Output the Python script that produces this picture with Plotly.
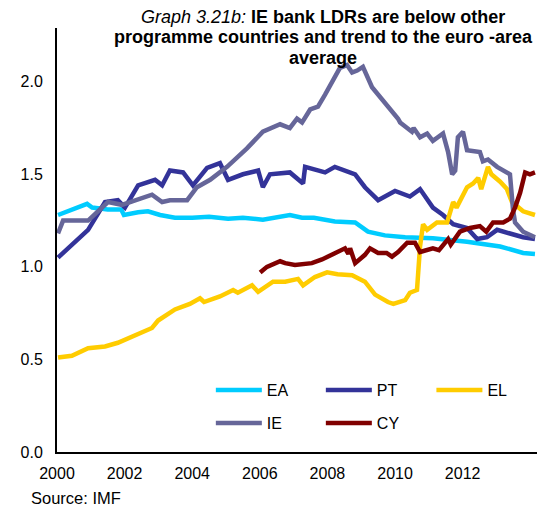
import plotly.graph_objects as go

# decimal years / loan-to-deposit ratios
ea_x = [2000.03, 2000.5, 2000.89, 2001.04, 2001.5, 2001.9, 2001.98, 2002.4, 2002.69, 2003.05,
        2003.49, 2004.0, 2004.5, 2005.06, 2005.5, 2006.09, 2006.5, 2006.89, 2007.25, 2007.6,
        2008.22, 2008.82, 2009.2, 2009.7, 2010.3, 2011.12, 2012.13, 2013.11, 2013.79, 2014.14]
ea_y = [1.28, 1.31, 1.34, 1.32, 1.31, 1.31, 1.28, 1.295, 1.30, 1.28,
        1.265, 1.265, 1.27, 1.26, 1.265, 1.255, 1.27, 1.28, 1.265, 1.265,
        1.245, 1.24, 1.19, 1.17, 1.16, 1.155, 1.135, 1.11, 1.075, 1.07]

pt_x = [2000.03, 2000.53, 2000.92, 2001.42, 2001.80, 2002.01, 2002.40, 2002.90, 2003.11, 2003.34,
        2003.73, 2004.02, 2004.44, 2004.82, 2005.06, 2005.50, 2005.95, 2006.09, 2006.30, 2006.89,
        2007.28, 2007.34, 2007.93, 2008.22, 2008.82, 2009.11, 2009.50, 2010.00, 2010.15, 2010.44,
        2010.74, 2011.12, 2011.42, 2011.72, 2012.13, 2012.43, 2012.72, 2013.02, 2013.40, 2013.79,
        2014.14]
pt_y = [1.05, 1.13, 1.20, 1.35, 1.36, 1.32, 1.44, 1.47, 1.44, 1.52,
        1.51, 1.44, 1.535, 1.56, 1.47, 1.50, 1.52, 1.43, 1.50, 1.51,
        1.45, 1.54, 1.51, 1.54, 1.50, 1.43, 1.36, 1.41, 1.40, 1.38,
        1.42, 1.32, 1.28, 1.23, 1.21, 1.15, 1.16, 1.20, 1.18, 1.16,
        1.15]

el_x = [2000.03, 2000.44, 2000.92, 2001.42, 2001.80, 2002.31, 2002.81, 2002.99, 2003.34, 2003.49,
        2003.93, 2004.23, 2004.35, 2004.82, 2005.21, 2005.35, 2005.77, 2005.95, 2006.39, 2006.75,
        2007.13, 2007.28, 2007.63, 2007.99, 2008.3, 2008.73, 2009.11, 2009.41, 2009.79, 2009.95,
        2010.30, 2010.44, 2010.65, 2010.74, 2010.83, 2010.95, 2011.24, 2011.54, 2011.72, 2011.82,
        2012.13, 2012.31, 2012.46, 2012.55, 2012.75, 2012.85, 2013.11, 2013.31, 2013.46, 2013.79,
        2014.14]
el_y = [0.51, 0.52, 0.56, 0.57, 0.59, 0.63, 0.67, 0.71, 0.75, 0.77,
        0.80, 0.83, 0.81, 0.84, 0.875, 0.86, 0.90, 0.865, 0.92, 0.92,
        0.935, 0.90, 0.945, 0.97, 0.96, 0.955, 0.92, 0.85, 0.81, 0.80,
        0.82, 0.86, 0.875, 1.11, 1.23, 1.20, 1.24, 1.24, 1.35, 1.32,
        1.43, 1.45, 1.48, 1.42, 1.54, 1.50, 1.46, 1.42, 1.35, 1.30,
        1.28]

ie_x = [2000.03, 2000.18, 2000.53, 2000.92, 2001.21, 2001.51, 2001.92, 2002.31, 2002.81, 2003.11,
        2003.34, 2003.85, 2004.14, 2004.53, 2005.03, 2005.62, 2006.09, 2006.60, 2006.89, 2007.10,
        2007.25, 2007.49, 2007.72, 2007.93, 2008.14, 2008.37, 2008.58, 2008.73, 2008.88, 2009.05,
        2009.32, 2009.70, 2010.09, 2010.15, 2010.50, 2010.55, 2010.74, 2010.95, 2011.12, 2011.42,
        2011.57, 2011.69, 2011.78, 2011.86, 2012.01, 2012.13, 2012.51, 2012.60, 2012.75, 2013.02,
        2013.31, 2013.40, 2013.49, 2013.55, 2013.79, 2014.14]
ie_y = [1.18, 1.25, 1.25, 1.25, 1.30, 1.35, 1.335, 1.36, 1.39, 1.35,
        1.36, 1.36, 1.43, 1.47, 1.54, 1.64, 1.73, 1.77, 1.75, 1.80,
        1.78, 1.85, 1.865, 1.93, 1.995, 2.075, 2.09, 2.05, 2.06, 2.08,
        1.97, 1.89, 1.80, 1.78, 1.73, 1.75, 1.70, 1.72, 1.68, 1.72,
        1.62, 1.50, 1.52, 1.70, 1.73, 1.63, 1.62, 1.57, 1.58, 1.54,
        1.51, 1.50, 1.31, 1.24, 1.19, 1.16]

cy_x = [2006.01, 2006.21, 2006.60, 2006.75, 2007.04, 2007.54, 2007.84, 2008.31, 2008.52, 2008.62,
        2008.67, 2008.82, 2009.11, 2009.26, 2009.50, 2009.75, 2009.91, 2010.09, 2010.36, 2010.59,
        2010.74, 2011.12, 2011.30, 2011.57, 2011.65, 2011.92, 2012.22, 2012.51, 2012.70, 2012.90,
        2013.20, 2013.40, 2013.55, 2013.70, 2013.85, 2013.99, 2014.14]
cy_y = [0.97, 1.00, 1.03, 1.02, 1.01, 1.02, 1.04, 1.08, 1.10, 1.07,
        1.10, 1.02, 1.065, 1.10, 1.075, 1.075, 1.055, 1.08, 1.13, 1.13,
        1.08, 1.10, 1.09, 1.15, 1.12, 1.19, 1.21, 1.22, 1.19, 1.24,
        1.24, 1.26, 1.32, 1.40, 1.51, 1.50, 1.51]

year_ticks = [2000, 2002, 2004, 2006, 2008, 2010, 2012]
ratio_ticks = [0.0, 0.5, 1.0, 1.5, 2.0]

title_lines = ["<i>Graph 3.21b:</i> <b>IE bank LDRs are below other</b>",
               "<b>programme countries and trend to the euro -area</b>",
               "<b>average</b>"]

# EL gets its own legend box so the last column does not spill past the page
series = [
    ("EA", ea_x, ea_y, "#00CCFF", "legend"),
    ("PT", pt_x, pt_y, "#333399", "legend"),
    ("EL", el_x, el_y, "#FFCC00", "legend3"),
    ("IE", ie_x, ie_y, "#666699", "legend2"),
    ("CY", cy_x, cy_y, "#800000", "legend2"),
]

fig = go.Figure()
for name, xs, ys, col, leg in series:
    fig.add_trace(go.Scatter(x=xs, y=ys, name=name, mode="lines",
                             line=dict(color=col, width=4.5), legend=leg))

font = "Liberation Sans, Arial, sans-serif"
leg_common = dict(orientation="h", xanchor="left", yanchor="middle", x=0.3205,
                  itemwidth=46, entrywidth=49, bgcolor="rgba(0,0,0,0)",
                  font=dict(family=font, size=16, color="black"), tracegroupgap=0)

# title as three separate lines so the line spacing matches
notes = []
for txt, ty in zip(title_lines, [1.027, 0.9776, 0.9293]):
    notes.append(dict(text=txt, xref="paper", yref="paper", x=0.555, y=ty,
                      xanchor="center", yanchor="middle", showarrow=False,
                      font=dict(size=18)))
notes.append(dict(text="Source: IMF", xref="paper", yref="paper", x=-0.058, y=-0.108,
                  xanchor="left", yanchor="middle", showarrow=False, font=dict(size=16.5)))

fig.update_layout(
    width=540, height=518,
    margin=dict(l=57, r=3, t=28, b=66, autoexpand=False),
    paper_bgcolor="white", plot_bgcolor="white",
    font=dict(family=font, size=16, color="black"),
    showlegend=True,
    legend=dict(leg_common, y=0.146),
    legend2=dict(leg_common, y=0.068),
    legend3=dict(leg_common, x=0.78, y=0.146, entrywidth=0),
    xaxis=dict(range=[2000, 2014.2], tickvals=year_ticks, ticktext=[str(t) for t in year_ticks],
               showgrid=False, zeroline=False, showline=True, linecolor="black", linewidth=2,
               ticks="", ticklabelstandoff=6, tickfont=dict(size=16)),
    yaxis=dict(range=[0, 2.29], tickvals=ratio_ticks, tickformat=".1f",
               showgrid=False, zeroline=False, showline=True, linecolor="black", linewidth=2,
               ticks="", ticklabelstandoff=9, tickfont=dict(size=16)),
    annotations=notes,
)

fig.write_html("out.html", config={"displayModeBar": False},
               post_script="document.body.style.margin='0px';")
